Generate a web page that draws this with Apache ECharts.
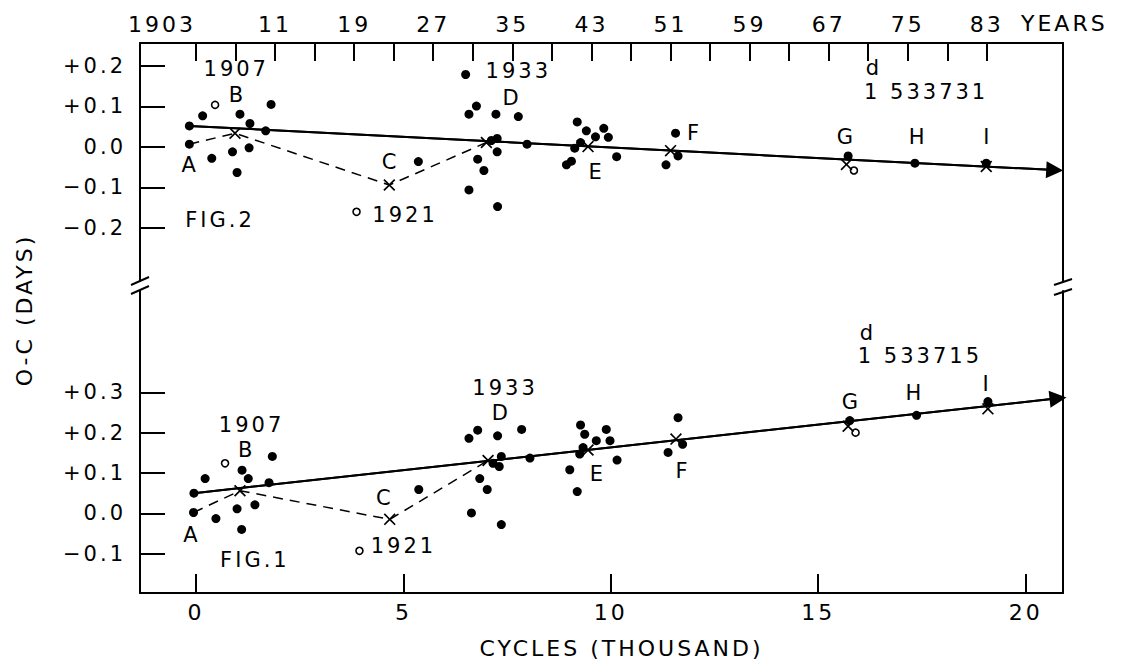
<!DOCTYPE html>
<html>
<head>
<meta charset="utf-8">
<script src="https://cdn.jsdelivr.net/npm/echarts@6/dist/echarts.min.js"></script>
<style>
  html, body { margin: 0; padding: 0; background: #fff; }
  #chart { width: 1123px; height: 660px; }
  #chart text { letter-spacing: 3px; }
</style>
</head>
<body>
<div id="chart"></div>
<script>
// x: thousands of cycles, y: O-C in days
const cycleTicks = [0, 5, 10, 15, 20];
const yearTicks = [1903, 1907, 1911, 1915, 1919, 1923, 1927, 1931, 1935, 1939, 1943, 1947, 1951, 1955, 1959, 1963, 1967, 1971, 1975, 1979, 1983];
const yearLabels = [1903, 1911, 1919, 1927, 1935, 1943, 1951, 1959, 1967, 1975, 1983];
const fig2Ticks = [-0.2, -0.1, 0, 0.1, 0.2];
const fig1Ticks = [-0.1, 0, 0.1, 0.2, 0.3];

// FIG. 2 (upper panel)
const fig2Dots = [
  [-0.16, 0.052], [-0.16, 0.007], [0.16, 0.077], [0.38, -0.028], [1.06, 0.081], [1.30, 0.058],
  [0.88, -0.012], [1.28, -0.002], [0.99, -0.063], [1.68, 0.040], [1.81, 0.105],
  [5.36, -0.036],
  [6.50, 0.179], [6.76, 0.101], [6.58, 0.081], [7.23, 0.081], [7.77, 0.075], [6.79, -0.030],
  [6.94, -0.058], [6.58, -0.106], [7.27, -0.147], [7.26, 0.021], [7.26, -0.012], [7.98, 0.007], [7.12, 0.016],
  [9.19, 0.062], [9.41, 0.040], [9.63, 0.025], [9.83, 0.046], [9.94, 0.024], [9.13, -0.003],
  [9.27, 0.011], [9.05, -0.035], [8.93, -0.044], [10.14, -0.024],
  [11.56, 0.034], [11.62, -0.022], [11.33, -0.044],
  [15.72, -0.022], [17.33, -0.040], [19.05, -0.040]
];
const fig2Open = [[0.46, 0.104], [3.87, -0.160], [15.86, -0.058]];
const fig2Means = [[0.94, 0.034], [4.66, -0.094], [7.00, 0.011], [9.45, 0.001], [11.44, -0.009], [15.68, -0.043], [19.05, -0.048]];
const fig2Dashed = [[-0.16, 0.007], [0.94, 0.034], [4.66, -0.094], [7.00, 0.011]];
const fig2Fit = [[-0.16, 0.052], [20.70, -0.057]];
const fig2Notes = [
  ['1907', 0.97, 0.192], ['B', 1.0, 0.128], ['A', -0.14, -0.044], ['C', 4.69, -0.036],
  ['1921', 5.04, -0.168], ['FIG.2', 0.58, -0.180], ['1933', 7.77, 0.188], ['D', 7.62, 0.120],
  ['E', 9.66, -0.061], ['F', 12.02, 0.034], ['G', 15.68, 0.025], ['H', 17.41, 0.025],
  ['I', 19.09, 0.025], ['d', 16.34, 0.194], ['1 533731', 17.6, 0.137]
];

// FIG. 1 (lower panel)
const fig1Dots = [
  [-0.05, 0.050], [-0.06, 0.002], [0.22, 0.086], [0.48, -0.013], [1.11, 0.107], [1.26, 0.086],
  [0.99, 0.011], [1.42, 0.021], [1.10, -0.040], [1.76, 0.076], [1.84, 0.141],
  [5.37, 0.059],
  [6.58, 0.186], [6.79, 0.206], [7.27, 0.192], [7.85, 0.208], [6.84, 0.086], [7.02, 0.059],
  [6.64, 0.001], [7.36, -0.028], [8.05, 0.137], [7.16, 0.124], [7.36, 0.141], [7.31, 0.116],
  [9.27, 0.219], [9.37, 0.196], [9.65, 0.180], [9.89, 0.208], [9.98, 0.180], [9.25, 0.147],
  [9.33, 0.163], [9.01, 0.108], [9.19, 0.054], [10.15, 0.132],
  [11.62, 0.237], [11.73, 0.171], [11.38, 0.151],
  [15.76, 0.230], [17.37, 0.243], [19.09, 0.277]
];
const fig1Open = [[0.70, 0.124], [3.94, -0.093], [15.90, 0.200]];
const fig1Means = [[1.06, 0.056], [4.67, -0.015], [7.04, 0.131], [9.45, 0.157], [11.57, 0.184], [15.72, 0.216], [19.09, 0.259]];
const fig1Dashed = [[-0.06, 0.002], [1.06, 0.056], [4.67, -0.015], [7.04, 0.131]];
const fig1Fit = [[-0.05, 0.050], [20.78, 0.285]];
const fig1Notes = [
  ['1907', 1.34, 0.220], ['B', 1.22, 0.157], ['A', -0.10, -0.054], ['FIG.1', 1.42, -0.117],
  ['C', 4.55, 0.037], ['1921', 5.0, -0.080], ['1933', 7.45, 0.310], ['D', 7.36, 0.249],
  ['E', 9.69, 0.098], ['F', 11.74, 0.105], ['G', 15.80, 0.277], ['H', 17.33, 0.298],
  ['I', 19.07, 0.320], ['d', 16.2, 0.448], ['1 533715', 17.45, 0.391]
];

const INK = '#000';
const FONT = 'DejaVu Sans';
const CROSS = 'path://M0,1L1,0L5,4L9,0L10,1L6,5L10,9L9,10L5,6L1,10L0,9L4,5Z';

function signed(v) {
  const s = Math.abs(v).toFixed(1);
  if (Math.abs(v) < 1e-9) return s;
  return (v > 0 ? '+' : '\u2212') + s;
}

function leftAxis(grid, min, max, ticks) {
  return {
    type: 'value', gridIndex: grid, position: 'left', min: min, max: max,
    axisLine: { show: true, onZero: false, lineStyle: { color: INK, width: 2 } },
    axisTick: { show: true, inside: true, length: 25, customValues: ticks, lineStyle: { color: INK, width: 2 } },
    axisLabel: { show: true, customValues: ticks, margin: 14, color: INK, fontSize: 21, fontFamily: FONT, formatter: signed },
    splitLine: { show: false }
  };
}

function rightAxis(grid, min, max) {
  return {
    type: 'value', gridIndex: grid, position: 'right', min: min, max: max,
    axisLine: { show: true, onZero: false, lineStyle: { color: INK, width: 2 } },
    axisTick: { show: false }, axisLabel: { show: false }, splitLine: { show: false }
  };
}

// one panel: dots, open circles, means, dashed path, fit line with arrow, notes
function panel(xi, yi, dots, open, means, dashed, fit, notes) {
  return [
    {
      type: 'line', xAxisIndex: xi, yAxisIndex: yi, data: dashed, showSymbol: false, symbol: 'none',
      lineStyle: { color: INK, width: 1.5, type: [10, 7] }, silent: true
    },
    {
      type: 'line', xAxisIndex: xi, yAxisIndex: yi, data: fit, symbol: 'none', silent: true,
      lineStyle: { color: INK, width: 2 },
      markLine: {
        silent: true, animation: false,
        symbol: ['none', 'triangle'], symbolSize: 17,
        label: { show: false },
        lineStyle: { color: INK, width: 2, type: 'solid' },
        data: [[{ coord: fit[0] }, { coord: fit[1] }]]
      }
    },
    {
      type: 'scatter', xAxisIndex: xi, yAxisIndex: yi, data: dots,
      symbol: 'circle', symbolSize: 9, itemStyle: { color: INK, opacity: 1 }, silent: true
    },
    {
      type: 'scatter', xAxisIndex: xi, yAxisIndex: yi, data: open,
      symbol: 'circle', symbolSize: 7, itemStyle: { color: '#fff', borderColor: INK, borderWidth: 1.6, opacity: 1 }, silent: true
    },
    {
      type: 'scatter', xAxisIndex: xi, yAxisIndex: yi, data: means,
      symbol: CROSS, symbolSize: 12, itemStyle: { color: INK, opacity: 1 }, silent: true
    },
    {
      type: 'scatter', xAxisIndex: xi, yAxisIndex: yi, silent: true,
      data: notes.map(n => ({ name: n[0], value: [n[1], n[2]] })),
      symbolSize: 1, itemStyle: { color: 'rgba(0,0,0,0)', opacity: 1 },
      label: { show: true, position: 'inside', formatter: '{b}', color: INK, fontSize: 21, lineHeight: 18, fontFamily: FONT }
    }
  ];
}

const chart = echarts.init(document.getElementById('chart'), null, { renderer: 'svg' });

chart.setOption({
  animation: false,
  backgroundColor: '#fff',
  textStyle: { fontFamily: FONT, color: INK },
  grid: [
    { left: 140, right: 60, top: 43, height: 238 },
    { left: 140, right: 60, top: 291, height: 307 }
  ],
  xAxis: [
    { type: 'value', gridIndex: 0, min: -1.35, max: 20.9, show: false },
    {
      type: 'value', gridIndex: 0, position: 'top', min: 1897.34, max: 1990.7,
      name: 'YEARS', nameLocation: 'end', nameGap: -42,
      nameTextStyle: { color: INK, fontSize: 22, fontFamily: FONT, verticalAlign: 'bottom', align: 'left', padding: [0, 0, 9, 0] },
      axisLine: { show: true, onZero: false, lineStyle: { color: INK, width: 2 } },
      axisTick: { show: true, inside: true, length: 18, customValues: yearTicks, lineStyle: { color: INK, width: 2 } },
      axisLabel: {
        show: true, customValues: yearLabels, margin: 8, color: INK, fontSize: 22, fontFamily: FONT,
        alignMinLabel: 'right',
        formatter: v => (v === 1903 ? '1903' : String(v % 100))
      },
      splitLine: { show: false }
    },
    {
      type: 'value', gridIndex: 1, position: 'bottom', min: -1.35, max: 20.9,
      name: 'CYCLES (THOUSAND)', nameLocation: 'middle', nameGap: 44,
      nameTextStyle: { color: INK, fontSize: 22, fontFamily: FONT, padding: [0, 0, 0, 40] },
      axisLine: { show: true, onZero: false, lineStyle: { color: INK, width: 2 } },
      axisTick: { show: true, inside: true, length: 19, customValues: cycleTicks, lineStyle: { color: INK, width: 2 } },
      axisLabel: { show: true, customValues: cycleTicks, margin: 8, color: INK, fontSize: 22, fontFamily: FONT },
      splitLine: { show: false }
    }
  ],
  yAxis: [
    leftAxis(0, -0.3309, 0.2568, fig2Ticks),
    rightAxis(0, -0.3309, 0.2568),
    leftAxis(1, -0.1976, 0.5512, fig1Ticks),
    rightAxis(1, -0.1976, 0.5512)
  ],
  graphic: [
    {
      type: 'text', x: 24, y: 310, rotation: Math.PI / 2,
      style: { text: 'O-C (DAYS)', fill: INK, font: '22px "DejaVu Sans"', align: 'center', verticalAlign: 'middle' }
    },
    { type: 'line', shape: { x1: 131, y1: 285, x2: 149, y2: 277 }, style: { stroke: INK, lineWidth: 2 } },
    { type: 'line', shape: { x1: 131, y1: 294, x2: 149, y2: 286 }, style: { stroke: INK, lineWidth: 2 } },
    { type: 'line', shape: { x1: 1054, y1: 285, x2: 1072, y2: 279 }, style: { stroke: INK, lineWidth: 2 } },
    { type: 'line', shape: { x1: 1054, y1: 295, x2: 1072, y2: 289 }, style: { stroke: INK, lineWidth: 2 } }
  ],
  series: [].concat(
    panel(0, 0, fig2Dots, fig2Open, fig2Means, fig2Dashed, fig2Fit, fig2Notes),
    panel(2, 2, fig1Dots, fig1Open, fig1Means, fig1Dashed, fig1Fit, fig1Notes)
  )
});
</script>
</body>
</html>
